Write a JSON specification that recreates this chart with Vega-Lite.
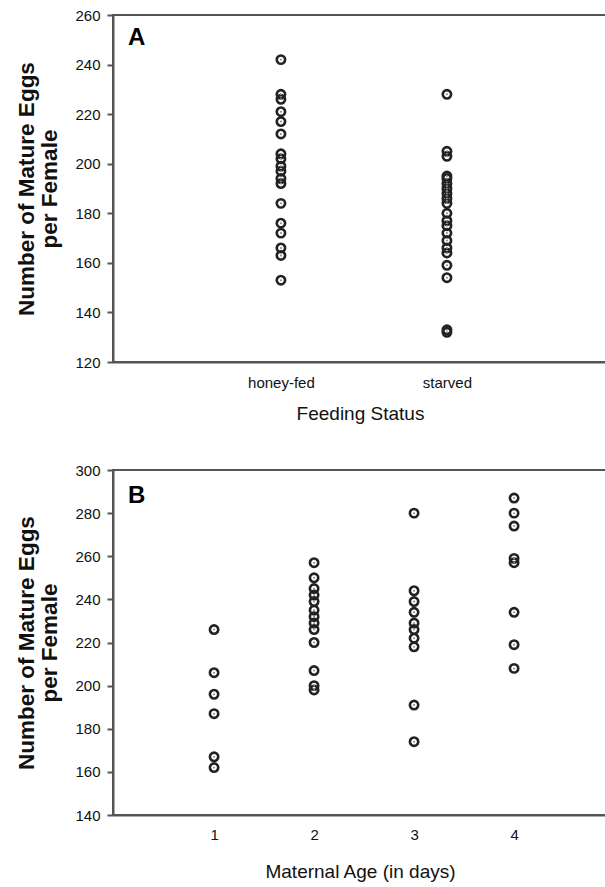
{
  "$schema": "https://vega.github.io/schema/vega-lite/v6.json",
  "autosize": "none",
  "padding": {"left": 113, "top": 15, "right": 492, "bottom": 872},
  "bounds": "flush",
  "spacing": 108,
  "config": {
    "view": {"stroke": "#555", "strokeWidth": 2},
    "font": "Liberation Sans",
    "axis": {
      "grid": false,
      "domainColor": "#555",
      "domainWidth": 2,
      "tickColor": "#555",
      "tickWidth": 2,
      "labelFont": "Liberation Sans",
      "labelFontSize": 15,
      "labelColor": "#111",
      "titleFont": "Liberation Sans",
      "titleColor": "#111"
    }
  },
  "datasets": {
    "feeding": [
      {"status": "honey-fed", "eggs": 242}, {"status": "honey-fed", "eggs": 228}, {"status": "honey-fed", "eggs": 226},
      {"status": "honey-fed", "eggs": 221}, {"status": "honey-fed", "eggs": 217}, {"status": "honey-fed", "eggs": 212},
      {"status": "honey-fed", "eggs": 204}, {"status": "honey-fed", "eggs": 202}, {"status": "honey-fed", "eggs": 199},
      {"status": "honey-fed", "eggs": 197}, {"status": "honey-fed", "eggs": 194}, {"status": "honey-fed", "eggs": 192},
      {"status": "honey-fed", "eggs": 184}, {"status": "honey-fed", "eggs": 176}, {"status": "honey-fed", "eggs": 172},
      {"status": "honey-fed", "eggs": 166}, {"status": "honey-fed", "eggs": 163}, {"status": "honey-fed", "eggs": 153},
      {"status": "starved", "eggs": 228}, {"status": "starved", "eggs": 205}, {"status": "starved", "eggs": 203},
      {"status": "starved", "eggs": 195}, {"status": "starved", "eggs": 194}, {"status": "starved", "eggs": 192},
      {"status": "starved", "eggs": 190}, {"status": "starved", "eggs": 188}, {"status": "starved", "eggs": 186},
      {"status": "starved", "eggs": 184}, {"status": "starved", "eggs": 180}, {"status": "starved", "eggs": 177},
      {"status": "starved", "eggs": 175}, {"status": "starved", "eggs": 172}, {"status": "starved", "eggs": 169},
      {"status": "starved", "eggs": 166}, {"status": "starved", "eggs": 164}, {"status": "starved", "eggs": 159},
      {"status": "starved", "eggs": 154}, {"status": "starved", "eggs": 133}, {"status": "starved", "eggs": 132}
    ],
    "age": [
      {"age": "1", "eggs": 226}, {"age": "1", "eggs": 206}, {"age": "1", "eggs": 196},
      {"age": "1", "eggs": 187}, {"age": "1", "eggs": 167}, {"age": "1", "eggs": 162},
      {"age": "2", "eggs": 257}, {"age": "2", "eggs": 250}, {"age": "2", "eggs": 245},
      {"age": "2", "eggs": 242}, {"age": "2", "eggs": 239}, {"age": "2", "eggs": 235},
      {"age": "2", "eggs": 232}, {"age": "2", "eggs": 229}, {"age": "2", "eggs": 226},
      {"age": "2", "eggs": 220}, {"age": "2", "eggs": 207}, {"age": "2", "eggs": 200},
      {"age": "2", "eggs": 198},
      {"age": "3", "eggs": 280}, {"age": "3", "eggs": 244}, {"age": "3", "eggs": 239},
      {"age": "3", "eggs": 234}, {"age": "3", "eggs": 229}, {"age": "3", "eggs": 226},
      {"age": "3", "eggs": 222}, {"age": "3", "eggs": 218}, {"age": "3", "eggs": 191},
      {"age": "3", "eggs": 174},
      {"age": "4", "eggs": 287}, {"age": "4", "eggs": 280}, {"age": "4", "eggs": 274},
      {"age": "4", "eggs": 259}, {"age": "4", "eggs": 257}, {"age": "4", "eggs": 234},
      {"age": "4", "eggs": 219}, {"age": "4", "eggs": 208}
    ]
  },
  "vconcat": [
    {
      "width": 494,
      "height": 347,
      "layer": [
        {
          "data": {"name": "feeding"},
          "encoding": {
            "x": {
              "field": "status", "type": "nominal",
              "scale": {"type": "point", "padding": 0.988, "align": 0.512},
              "axis": {"title": "Feeding Status", "labelAngle": 0, "tickSize": 0, "labelPadding": 13, "labelFontSize": 15, "titleFontSize": 19, "titlePadding": 14, "titleFontWeight": "normal"}
            },
            "y": {
              "field": "eggs", "type": "quantitative",
              "scale": {"domain": [120, 260], "nice": false, "zero": false},
              "axis": {
                "values": [120, 140, 160, 180, 200, 220, 240, 260],
                "tickSize": 6, "labelPadding": 7,
                "title": ["Number of Mature Eggs", "per Female"],
                "titleFontSize": 22.5, "titleFontWeight": "bold", "titleLineHeight": 23, "titlePadding": 13
              }
            }
          },
          "layer": [
            {"mark": {"type": "point", "shape": "circle", "filled": false, "size": 70, "strokeWidth": 2.6, "color": "#222", "opacity": 1}},
            {"mark": {"type": "circle", "size": 4, "color": "#888", "opacity": 1}}
          ]
        },
        {
          "data": {"values": [{"panel": "A"}]},
          "mark": {"type": "text", "align": "left", "baseline": "alphabetic", "fontSize": 24, "fontWeight": "bold", "color": "#000"},
          "encoding": {
            "text": {"field": "panel", "type": "nominal"},
            "x": {"value": 15},
            "y": {"datum": 248, "type": "quantitative"}
          }
        }
      ]
    },
    {
      "width": 494,
      "height": 345,
      "layer": [
        {
          "data": {"name": "age"},
          "encoding": {
            "x": {
              "field": "age", "type": "ordinal",
              "scale": {"type": "point", "padding": 0.97, "align": 0.521},
              "axis": {"title": "Maternal Age  (in days)", "labelAngle": 0, "tickSize": 0, "labelPadding": 12, "titleFontSize": 19, "titlePadding": 20, "titleFontWeight": "normal"}
            },
            "y": {
              "field": "eggs", "type": "quantitative",
              "scale": {"domain": [140, 300], "nice": false, "zero": false},
              "axis": {
                "values": [140, 160, 180, 200, 220, 240, 260, 280, 300],
                "tickSize": 6, "labelPadding": 7,
                "title": ["Number of Mature Eggs", "per Female"],
                "titleFontSize": 22.5, "titleFontWeight": "bold", "titleLineHeight": 23, "titlePadding": 13
              }
            }
          },
          "layer": [
            {"mark": {"type": "point", "shape": "circle", "filled": false, "size": 70, "strokeWidth": 2.6, "color": "#222", "opacity": 1}},
            {"mark": {"type": "circle", "size": 4, "color": "#888", "opacity": 1}}
          ]
        },
        {
          "data": {"values": [{"panel": "B"}]},
          "mark": {"type": "text", "align": "left", "baseline": "alphabetic", "fontSize": 24, "fontWeight": "bold", "color": "#000"},
          "encoding": {
            "text": {"field": "panel", "type": "nominal"},
            "x": {"value": 15},
            "y": {"datum": 284.7, "type": "quantitative"}
          }
        }
      ]
    }
  ]
}
